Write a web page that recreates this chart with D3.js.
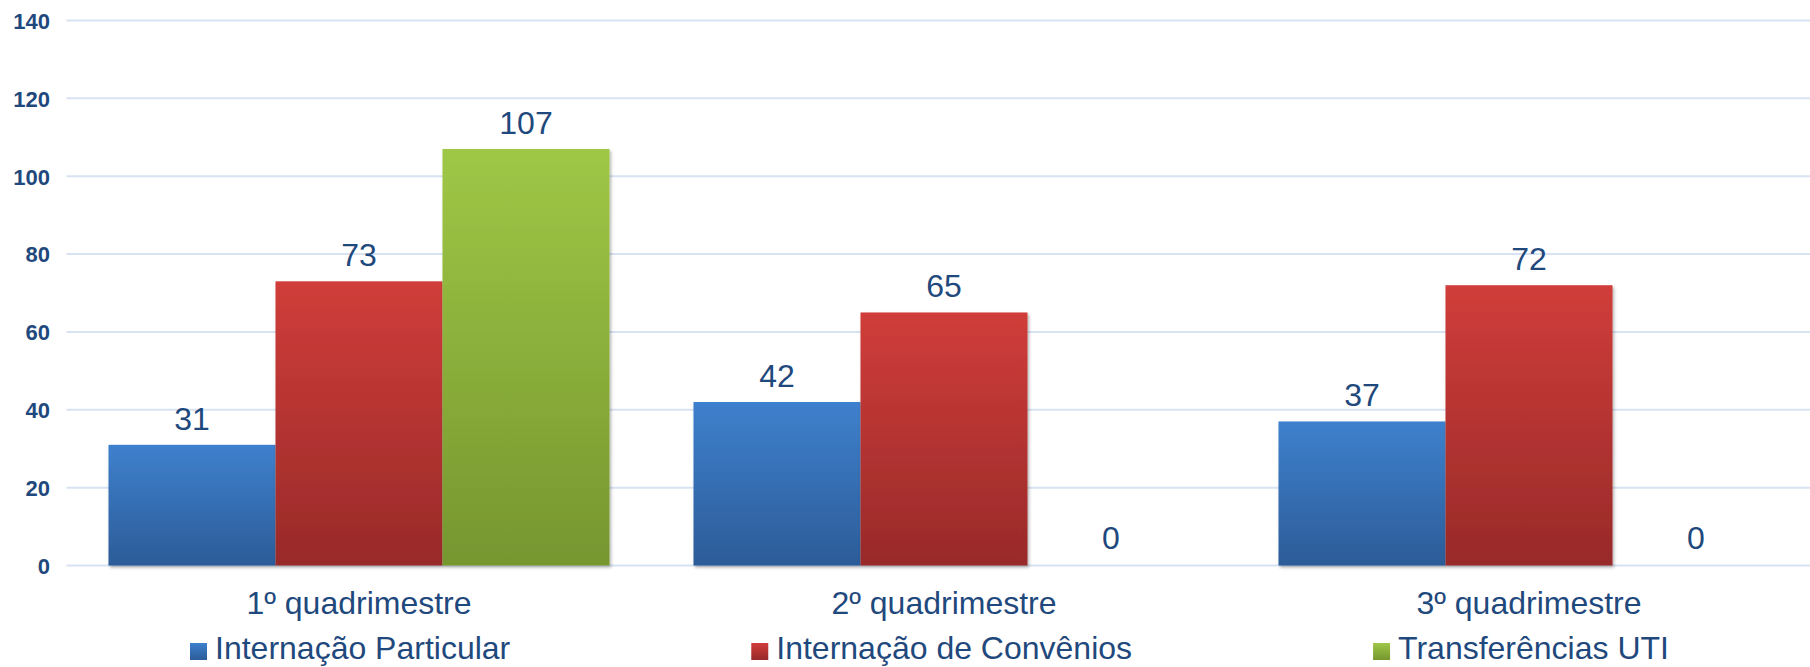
<!DOCTYPE html>
<html>
<head>
<meta charset="utf-8">
<script src="https://cdn.jsdelivr.net/npm/d3@7"></script>
<style>
  html, body { margin: 0; padding: 0; background: #fff; }
  svg { display: block; }
  text { font-family: "Liberation Sans", Arial, sans-serif; }
</style>
</head>
<body>
<svg id="chart" width="1810" height="667"></svg>
<script>
const categories = ["1º quadrimestre", "2º quadrimestre", "3º quadrimestre"];
const seriesNames = ["Internação Particular", "Internação de Convênios", "Transferências UTI"];
const particular = [31, 42, 37];
const convenios = [73, 65, 72];
const transferencias = [107, 0, 0];
const yTicks = [0, 20, 40, 60, 80, 100, 120, 140];

const seriesValues = [particular, convenios, transferencias];
const colorStops = [
  ["#3e80cd", "#2c5c98"],
  ["#d03d3a", "#982a29"],
  ["#9fc746", "#76962f"]
];
const textColor = "#1f497d";

const svg = d3.select("#chart");
const W = 1810, H = 667;
const plotLeft = 66.5, plotRight = 1821.5, plotTop = 20.5, plotBottom = 565.5;

const x0 = d3.scaleBand().domain(categories).range([plotLeft, plotRight]).padding(0);
const x1 = d3.scaleBand().domain(d3.range(seriesNames.length)).range([0, x0.bandwidth()])
  .paddingInner(0).paddingOuter(0.2515);
const y = d3.scaleLinear().domain([0, 140]).range([plotBottom, plotTop]);

const defs = svg.append("defs");
colorStops.forEach((c, i) => {
  const g = defs.append("linearGradient").attr("id", "grad" + i)
    .attr("x1", 0).attr("y1", 0).attr("x2", 0).attr("y2", 1);
  g.append("stop").attr("offset", "0%").attr("stop-color", c[0]);
  g.append("stop").attr("offset", "100%").attr("stop-color", c[1]);
});
const f = defs.append("filter").attr("id", "shadow").attr("x", "-5%").attr("y", "-5%").attr("width", "115%").attr("height", "115%");
f.append("feDropShadow").attr("dx", 1.5).attr("dy", 2).attr("stdDeviation", 1.5).attr("flood-color", "#000").attr("flood-opacity", 0.3);

// gridlines
svg.append("g").selectAll("line").data(yTicks).join("line")
  .attr("x1", plotLeft).attr("x2", W)
  .attr("y1", d => y(d)).attr("y2", d => y(d))
  .attr("stroke", "#d7e3f3").attr("stroke-width", 2);

// y axis labels
const yAxis = d3.axisLeft(y).tickValues(yTicks).tickSize(0).tickPadding(0);
const ya = svg.append("g").attr("transform", "translate(50,0)").call(yAxis);
ya.select(".domain").remove();
ya.selectAll("text")
  .attr("font-family", "Liberation Sans, Arial, sans-serif")
  .attr("font-size", 22).attr("font-weight", "bold").attr("fill", textColor)
  .attr("dy", "0.36em");

// bars
const groups = svg.append("g").selectAll("g").data(categories).join("g")
  .attr("transform", d => `translate(${x0(d)},0)`);

groups.each(function(cat, ci) {
  const g = d3.select(this);
  const vals = seriesValues.map((s, si) => ({si, v: s[ci]}));
  g.selectAll("rect").data(vals.filter(d => d.v > 0)).join("rect")
    .attr("x", d => x1(d.si))
    .attr("y", d => y(d.v))
    .attr("width", x1.bandwidth())
    .attr("height", d => y(0) - y(d.v))
    .attr("fill", d => `url(#grad${d.si})`)
    .attr("filter", "url(#shadow)");
  g.selectAll("text.val").data(vals).join("text")
    .attr("class", "val")
    .attr("x", d => x1(d.si) + x1.bandwidth() / 2)
    .attr("y", d => y(d.v) - (d.v > 0 ? 15 : 17))
    .attr("text-anchor", "middle")
    .attr("font-size", 32).attr("fill", textColor)
    .text(d => d.v);
});

// category labels
const xAxis = d3.axisBottom(x0).tickSize(0).tickPadding(0);
const xa = svg.append("g").attr("transform", `translate(0,${plotBottom})`).call(xAxis);
xa.select(".domain").remove();
xa.selectAll("text")
  .attr("font-family", "Liberation Sans, Arial, sans-serif")
  .attr("font-size", 32).attr("fill", textColor)
  .attr("dy", 0).attr("y", 48.5);

// legend
const legend = svg.append("g");
let lx = 190;
seriesNames.forEach((name, i) => {
  const item = legend.append("g").attr("transform", `translate(${lx},0)`);
  item.append("rect").attr("x", 0).attr("y", 643).attr("width", 17).attr("height", 17)
    .attr("fill", `url(#grad${i})`);
  const t = item.append("text").attr("x", 25).attr("y", 659)
    .attr("font-size", 32).attr("fill", textColor).text(name);
  lx += 25 + t.node().getComputedTextLength() + 241;
});
</script>
</body>
</html>
